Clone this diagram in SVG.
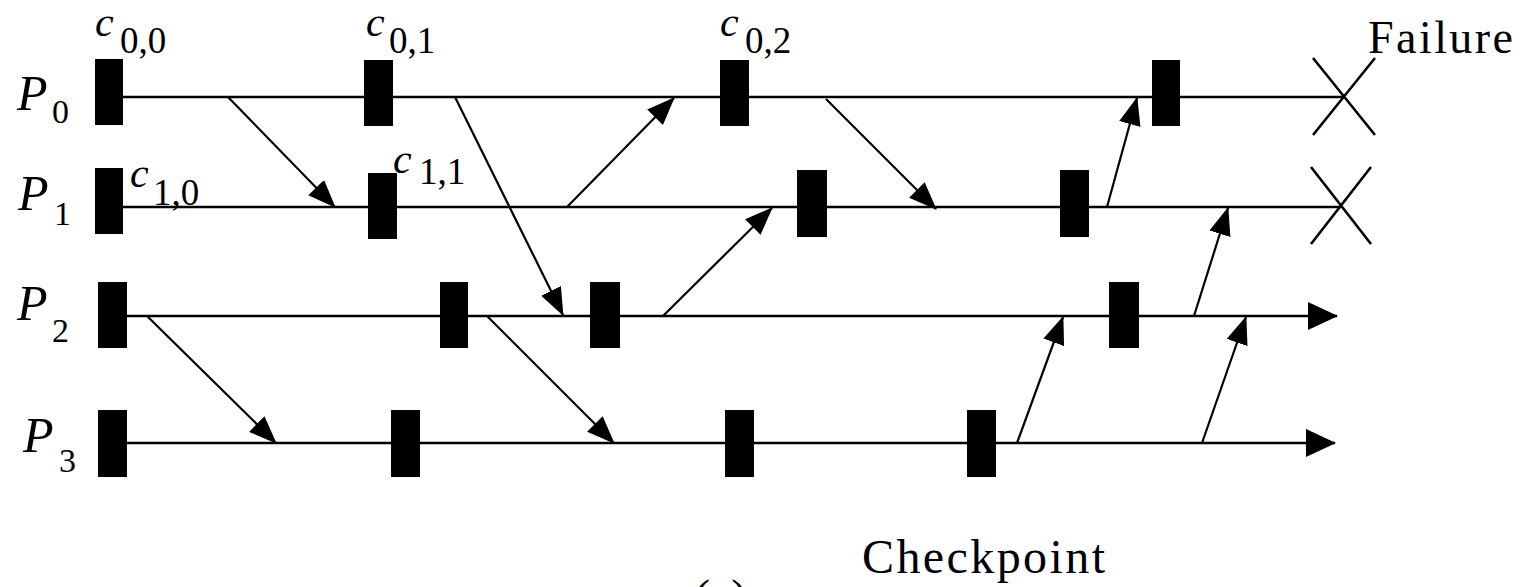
<svg xmlns="http://www.w3.org/2000/svg" width="1528" height="587" viewBox="0 0 1528 587">
  <style>
    .tl { stroke: #000; stroke-width: 2.6; fill: none; }
    .msg { stroke: #000; stroke-width: 2.2; fill: none; marker-end: url(#head); }
    .fail { stroke: #000; stroke-width: 2.6; fill: none; }
    .ck { fill: #000; }
    text { font-family: 'Liberation Serif', 'Times New Roman', Times, serif; fill: #000; }
    .it { font-style: italic; }
    .sub { font-size: 37px; }
  </style>
  <defs>
    <marker id="head" markerUnits="userSpaceOnUse" markerWidth="28" markerHeight="22" refX="27" refY="11" orient="auto">
      <path d="M0,0 L28,11 L0,22 z" fill="#000"/>
    </marker>
    <marker id="end" markerUnits="userSpaceOnUse" markerWidth="30" markerHeight="28" refX="29" refY="14" orient="auto">
      <path d="M0,0 L30,14 L0,28 z" fill="#000"/>
    </marker>
  </defs>
  <rect width="1528" height="587" fill="#fff"/>

  <!-- process timelines -->
  <g id="timelines">
    <line class="tl" x1="123" y1="97" x2="1343" y2="97"/>
    <line class="tl" x1="123" y1="207" x2="1341" y2="207"/>
    <line class="tl" x1="127" y1="316" x2="1337" y2="316" marker-end="url(#end)"/>
    <line class="tl" x1="127" y1="443" x2="1335" y2="443" marker-end="url(#end)"/>
  </g>

  <!-- failure marks -->
  <g id="failures">
    <path class="fail" d="M1313,135 L1375,58 M1313,58 L1375,135"/>
    <path class="fail" d="M1311,244 L1371,167 M1311,167 L1371,244"/>
  </g>

  <!-- process labels -->
  <g id="P0"><text class="it" x="17" y="110" font-size="50">P</text><text x="52" y="123" font-size="34">0</text></g>
  <g id="P1"><text class="it" x="18" y="210" font-size="50">P</text><text x="54" y="225" font-size="34">1</text></g>
  <g id="P2"><text class="it" x="17" y="320" font-size="50">P</text><text x="52" y="342" font-size="34">2</text></g>
  <g id="P3"><text class="it" x="23" y="452" font-size="50">P</text><text x="59" y="472" font-size="34">3</text></g>

  <!-- checkpoints on P0 -->
  <g id="ck-p0">
    <rect class="ck" x="95" y="59" width="28" height="66"/>
    <rect class="ck" x="364" y="60" width="29" height="66"/>
    <rect class="ck" x="720" y="60" width="29" height="66"/>
    <rect class="ck" x="1152" y="60" width="28" height="66"/>
  </g>
  <!-- checkpoints on P1 -->
  <g id="ck-p1">
    <rect class="ck" x="95" y="168" width="28" height="66"/>
    <rect class="ck" x="368" y="173" width="29" height="66"/>
    <rect class="ck" x="797" y="170" width="30" height="67"/>
    <rect class="ck" x="1060" y="170" width="29" height="67"/>
  </g>
  <!-- checkpoints on P2 -->
  <g id="ck-p2">
    <rect class="ck" x="98" y="282" width="29" height="66"/>
    <rect class="ck" x="440" y="282" width="28" height="66"/>
    <rect class="ck" x="590" y="282" width="30" height="66"/>
    <rect class="ck" x="1109" y="282" width="30" height="66"/>
  </g>
  <!-- checkpoints on P3 -->
  <g id="ck-p3">
    <rect class="ck" x="98" y="410" width="29" height="67"/>
    <rect class="ck" x="391" y="410" width="29" height="67"/>
    <rect class="ck" x="725" y="410" width="29" height="67"/>
    <rect class="ck" x="967" y="410" width="29" height="67"/>
  </g>

  <!-- checkpoint labels -->
  <g id="c00"><text class="it" x="95" y="36" font-size="42">c</text><text class="sub" x="120" y="53">0,0</text></g>
  <g id="c01"><text class="it" x="366" y="36" font-size="42">c</text><text class="sub" x="389" y="53">0,1</text></g>
  <g id="c02"><text class="it" x="720" y="36" font-size="42">c</text><text class="sub" x="745" y="53">0,2</text></g>
  <g id="c10"><text class="it" x="130" y="187" font-size="42">c</text><text class="sub" x="153" y="205">1,0</text></g>
  <g id="c11"><text class="it" x="393" y="173" font-size="42">c</text><text class="sub" x="419" y="184">1,1</text></g>

  <!-- messages -->
  <g id="messages">
    <line class="msg" x1="228" y1="97" x2="335" y2="207"/>
    <line class="msg" x1="455" y1="97" x2="563" y2="315"/>
    <line class="msg" x1="567" y1="207" x2="674" y2="98"/>
    <line class="msg" x1="826" y1="99" x2="936" y2="209"/>
    <line class="msg" x1="663" y1="316" x2="772" y2="208"/>
    <line class="msg" x1="1107" y1="207" x2="1137" y2="98"/>
    <line class="msg" x1="1194" y1="316" x2="1228" y2="208"/>
    <line class="msg" x1="1017" y1="443" x2="1063" y2="317"/>
    <line class="msg" x1="1202" y1="443" x2="1246" y2="317"/>
    <line class="msg" x1="147" y1="316" x2="276" y2="443"/>
    <line class="msg" x1="487" y1="316" x2="614" y2="443"/>
  </g>

  <!-- captions -->
  <g id="captions">
    <text x="1368" y="53" font-size="46" textLength="145">Failure</text>
    <text x="862" y="573" font-size="48" textLength="243">Checkpoint</text>
    <text x="694" y="613" font-size="48" fill="#d0d0d0">(a)</text>
  </g>
</svg>
